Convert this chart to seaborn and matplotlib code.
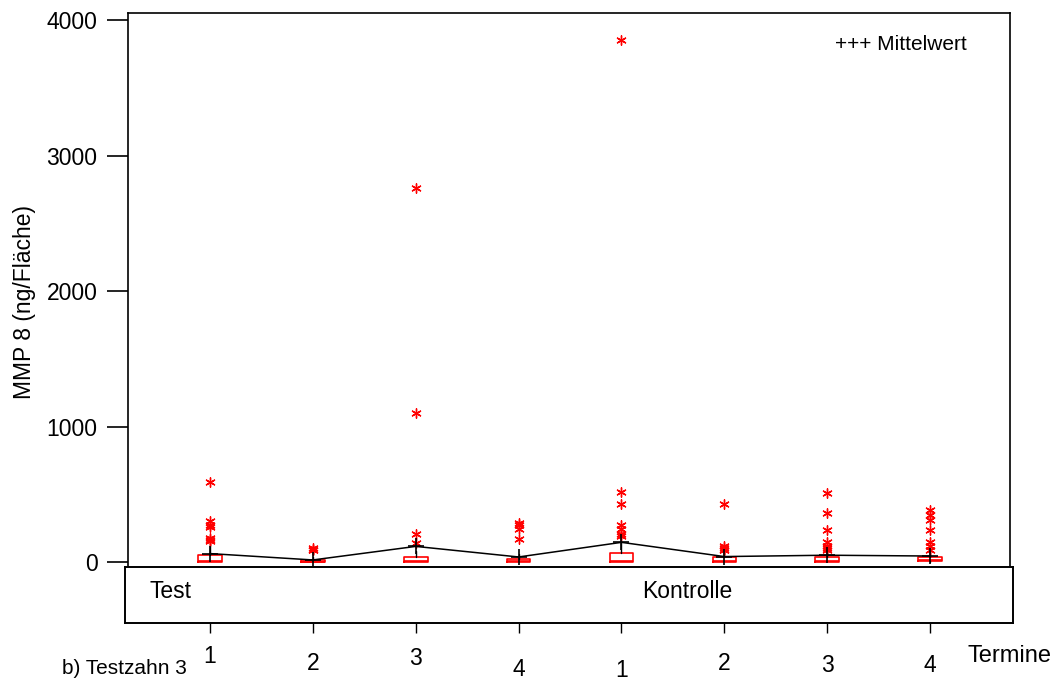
import matplotlib
matplotlib.use("Agg")
import matplotlib.pyplot as plt
import matplotlib.transforms as mtrans
import seaborn as sns
import pandas as pd
import numpy as np

# ---------------- data ----------------
groups = ["Test", "Test", "Test", "Test", "Kontrolle", "Kontrolle", "Kontrolle", "Kontrolle"]
termine = ["1", "2", "3", "4", "1", "2", "3", "4"]
q1 = [2, 0, 0, 1, 0, 0, 1, 5]
median = [10, 3, 8, 8, 10, 8, 10, 15]
q3 = [52, 12, 35, 25, 70, 37, 37, 40]
whisk_lo = [0, 0, 0, 0, 0, 0, 0, 0]
whisk_hi = [125, 40, 80, 60, 150, 70, 80, 100]
means = [62, 15, 115, 37, 145, 40, 50, 44]
outliers = [
    [590, 300, 275, 255, 180, 165, 155],
    [100, 92, 85],
    [2760, 1100, 210, 140],
    [290, 270, 240, 170],
    [3850, 520, 430, 270, 240, 210, 190],
    [430, 115, 100, 90, 85],
    [510, 360, 235, 150, 115, 100, 90],
    [385, 345, 310, 235, 150, 120, 90],
]
yticks = [0, 1000, 2000, 3000, 4000]

# ---------------- style ----------------
sns.set_theme(style="white")
plt.rcParams["font.family"] = ["Liberation Sans", "DejaVu Sans"]
plt.rcParams["text.color"] = "black"
plt.rcParams["axes.labelcolor"] = "black"
plt.rcParams["xtick.color"] = "black"
plt.rcParams["ytick.color"] = "black"
FS = 16.5

W, H = 1057, 682
fig = plt.figure(figsize=(W / 100, H / 100), dpi=100)

def frac(x0, y0, x1, y1):
    return [x0 / W, 1 - y1 / H, (x1 - x0) / W, (y1 - y0) / H]

ax = fig.add_axes(frac(128, 13, 1010, 567))
panel = fig.add_axes(frac(125, 567, 1013, 623))

pos = np.arange(len(termine))

# boxes
stats = []
for i in range(len(termine)):
    stats.append(dict(q1=q1[i], med=median[i], q3=q3[i],
                      whislo=whisk_lo[i], whishi=whisk_hi[i],
                      fliers=[], label=termine[i]))
ax.bxp(stats, positions=pos, widths=0.23, showfliers=False, showcaps=False,
       boxprops=dict(color="red", linewidth=1.2),
       medianprops=dict(color="red", linewidth=1.2),
       whiskerprops=dict(color="black", linewidth=1.0),
       manage_ticks=False)

# outliers
out_df = pd.DataFrame({
    "pos": np.concatenate([[p] * len(o) for p, o in zip(pos, outliers)]),
    "value": np.concatenate(outliers),
})
sns.scatterplot(data=out_df, x="pos", y="value", ax=ax, marker=(6, 2, 0),
                s=45, color="red", edgecolor="red", linewidth=1.0, legend=False, zorder=4)

# means
mean_df = pd.DataFrame({"pos": pos, "mean": means})
sns.lineplot(data=mean_df, x="pos", y="mean", ax=ax, color="black", linewidth=1.1,
             marker="+", markersize=11, markeredgewidth=1.2, markeredgecolor="black",
             zorder=5)

# main axes formatting
ax.set_xlim(-0.797, 7.777)
ax.set_ylim(-37, 4052)
ax.set_yticks(yticks)
ax.set_yticklabels([str(t) for t in yticks])
ax.set_xticks([])
ax.set_xlabel("")
ax.set_ylabel("MMP 8 (ng/Fläche)", fontsize=FS, va="center", color="black")
ax.yaxis.set_label_coords((25 - 128) / 882, (567 - 302) / 554)
ax.tick_params(axis="y", direction="out", length=15, width=1.2, pad=7,
               left=True, labelsize=FS, colors="black")
for s in ["left", "top", "right"]:
    ax.spines[s].set_visible(True)
    ax.spines[s].set_color("black")
    ax.spines[s].set_linewidth(1.2)
ax.spines["bottom"].set_visible(False)
ax.text(835 / W, 1 - 45 / H, "+++ Mittelwert", transform=fig.transFigure,
        fontsize=15, ha="left", va="center", color="black")

# lower panel
panel.set_xlim(-0.826, 7.807)
panel.set_ylim(0, 1)
panel.set_yticks([])
panel.set_xticks(pos)
panel.set_xticklabels(termine)
panel.tick_params(axis="x", direction="out", length=7.5, width=1.0, pad=8,
                  bottom=True, labelsize=FS, colors="black")
for s in panel.spines.values():
    s.set_visible(True)
    s.set_color("black")
    s.set_linewidth(1.4)
panel.text(150 / W, 1 - 591 / H, "Test", transform=fig.transFigure,
           fontsize=FS, ha="left", va="center", color="black")
panel.text(687 / W, 1 - 591 / H, "Kontrolle", transform=fig.transFigure,
           fontsize=FS, ha="center", va="center", color="black")

# slight vertical jitter of tick labels as in the original rendering
label_shift_px = [0, -7, -2, -13, -14, -7, -9, -9]
for lab, dy in zip(panel.get_xticklabels(), label_shift_px):
    lab.set_transform(lab.get_transform() +
                      mtrans.ScaledTranslation(0, dy / 100, fig.dpi_scale_trans))

fig.text(967 / W, 1 - 656 / H, "Termine", fontsize=17, ha="left", va="center", color="black")
fig.text(62 / W, 1 - 668 / H, "b) Testzahn 3", fontsize=15, ha="left", va="center", color="black")

fig.savefig("out.png", dpi=100)
